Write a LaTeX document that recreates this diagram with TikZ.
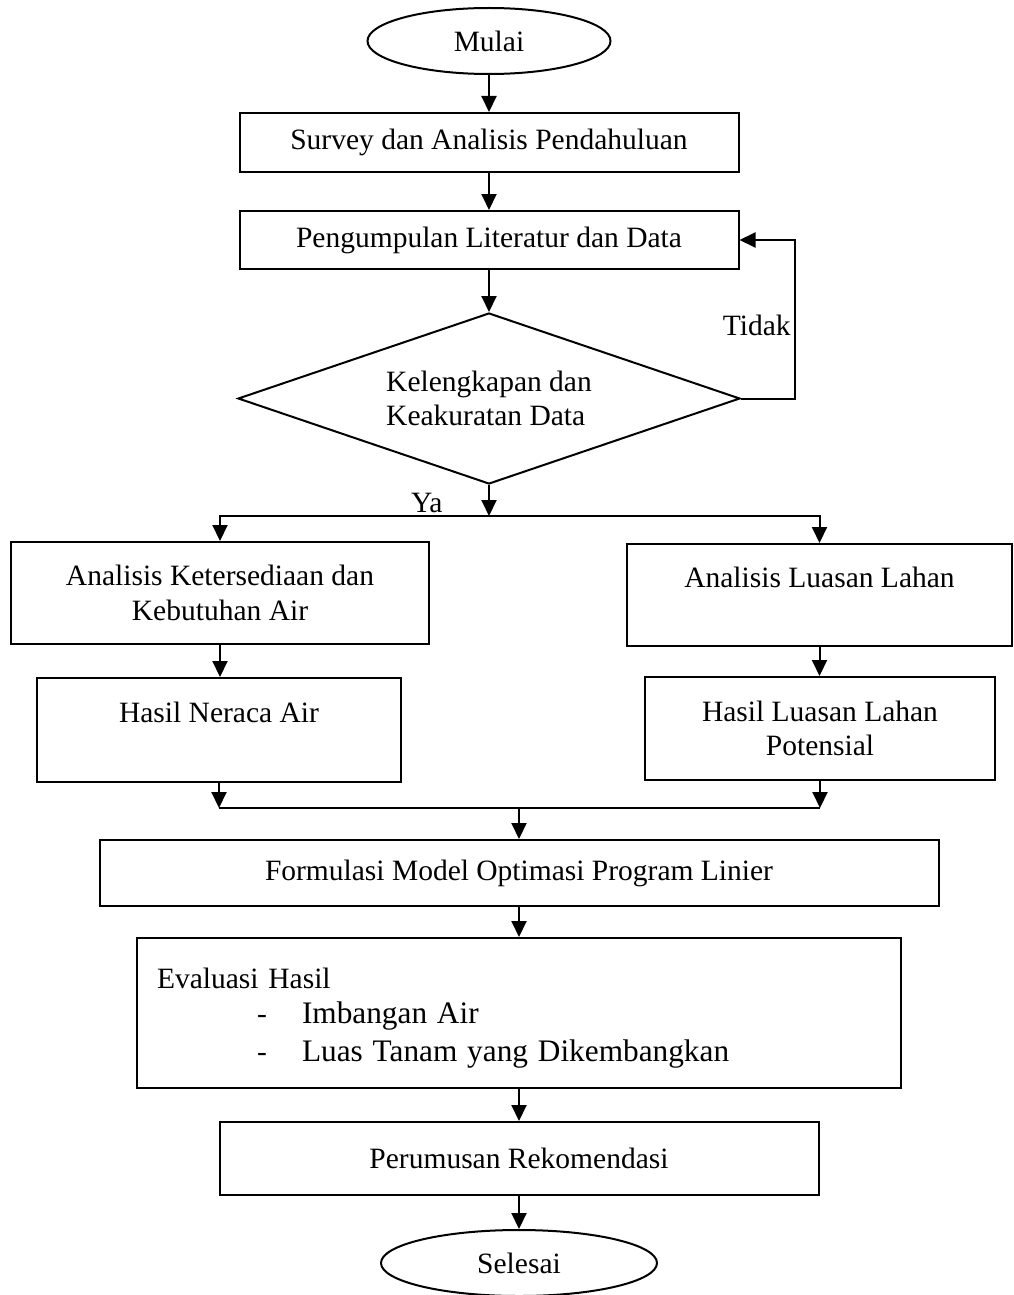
\documentclass[tikz,border=0pt]{standalone}
\usepackage{fontspec}
\setmainfont{Liberation Serif}
\usetikzlibrary{shapes.geometric}
\usetikzlibrary{arrows.meta}
\tikzset{
  every node/.style={font=\fontsize{29.5}{34.5}\selectfont},
  kotak/.style={draw,rectangle,line width=2pt,align=center,inner sep=0pt},
  terminal/.style={draw,ellipse,line width=2pt,inner sep=0pt},
  keputusan/.style={draw,diamond,shape aspect=2.94,line width=2pt,inner sep=0pt,align=left},
  panah/.style={line width=2pt,-{Triangle[length=16pt,width=15pt]}},
  garis/.style={line width=2pt}
}

\begin{document}
\begin{tikzpicture}[x=1pt,y=-1pt]
   \useasboundingbox (0,0) rectangle (1013,1295);
   \node[terminal,minimum width=243pt,minimum height=66pt] (mulai) at (489,41) {Mulai};
   \node[kotak,minimum width=499pt,minimum height=59pt] (survey) at (489,142.5) {Survey dan Analisis Pendahuluan};
   \node[kotak,minimum width=499pt,minimum height=58pt] (literatur) at (489,240) {Pengumpulan Literatur dan Data};
   \node[keputusan,minimum width=502pt,minimum height=171pt] (cek) at (489,398.5) {Kelengkapan dan\\Keakuratan Data};
   \coordinate (cabang) at (489,516);
   \node[anchor=base east] (ya) at ([xshift=-43pt,yshift=4pt]cabang) {Ya};
   \node[kotak,minimum width=418pt,minimum height=102pt] (anAir) at (220,593) {Analisis Ketersediaan dan\\Kebutuhan Air};
   \node[kotak,minimum width=385pt,minimum height=102pt] (anLahan) at (819.5,595) {Analisis Luasan Lahan\\\mbox{}};
   \node[kotak,minimum width=364pt,minimum height=104pt] (neraca) at (219,730) {Hasil Neraca Air\\\mbox{}};
   \node[kotak,minimum width=350pt,minimum height=103pt] (luasPot) at (820,728.5) {Hasil Luasan Lahan\\Potensial};
   \coordinate (gabung) at (519,808);
   \node[kotak,minimum width=839pt,minimum height=66pt] (formulasi) at (519,873) {Formulasi Model Optimasi Program Linier};
   \node[kotak,minimum width=764pt,minimum height=150pt,text width=724pt,align=left] (evaluasi) at (519,1013)
      {\rule{0pt}{30pt}Evaluasi Hasil\\[1pt]
       \hspace*{100pt}\makebox[45pt][l]{-}{\fontsize{31.3}{34.5}\selectfont Imbangan Air}\\[3pt]
       \hspace*{100pt}\makebox[45pt][l]{-}{\fontsize{31.3}{34.5}\selectfont Luas Tanam yang Dikembangkan}};
   \node[kotak,minimum width=599pt,minimum height=73pt] (rekomendasi) at (519,1158.5) {Perumusan Rekomendasi};
   \node[terminal,minimum width=276pt,minimum height=66pt] (selesai) at (519,1263) {Selesai};

   \draw[panah] (mulai) -- (survey);
   \draw[panah] (survey) -- (literatur);
   \draw[panah] (literatur) -- (cek);
   \draw[panah] (cek.east) -- ++(54,0) |- node[pos=0.23,left] (tidak) {Tidak} (literatur.east);
   \draw[panah] (cek.south) -- (cabang);
   \draw[panah] (cabang) -| (anAir.north);
   \draw[panah] (cabang) -| (anLahan.north);
   \draw[panah] (anAir.south) -- (anAir.south |- neraca.north);
   \draw[panah] (anLahan.south) -- (anLahan.south |- luasPot.north);
   \draw[panah] (neraca.south) -- (neraca.south |- gabung);
   \draw[panah] (luasPot.south) -- (luasPot.south |- gabung);
   \draw[garis] (neraca.south |- gabung) -- (luasPot.south |- gabung);
   \draw[panah] (gabung) -- (formulasi.north);
   \draw[panah] (formulasi) -- (evaluasi);
   \draw[panah] (evaluasi) -- (rekomendasi);
   \draw[panah] (rekomendasi) -- (selesai);
\end{tikzpicture}
\end{document}
